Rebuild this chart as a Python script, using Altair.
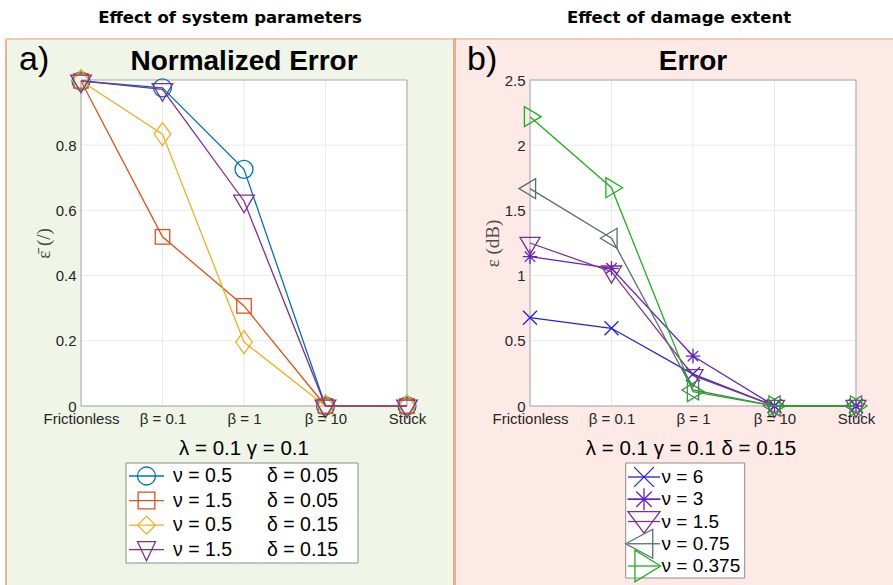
import altair as alt
import pandas as pd

# ---------------------------------------------------------------- data
categories = ["Frictionless", "β = 0.1", "β = 1", "β = 10", "Stuck"]

# (a) normalized error, lambda = gamma = 0.1
nu_a = ["ν = 0.5", "ν = 1.5", "ν = 0.5", "ν = 1.5"]
delta_a = ["δ = 0.05", "δ = 0.05", "δ = 0.15", "δ = 0.15"]
err_a_nu05_d005 = [0.997, 0.976, 0.726, 0.0, 0.0]
err_a_nu15_d005 = [0.997, 0.519, 0.307, 0.0, 0.0]
err_a_nu05_d015 = [0.997, 0.834, 0.196, 0.0, 0.0]
err_a_nu15_d015 = [0.997, 0.971, 0.629, 0.0, 0.0]
ticks_a = [0, 0.2, 0.4, 0.6, 0.8]

# (b) error in dB, lambda = gamma = 0.1, delta = 0.15
nu_b = ["ν = 6", "ν = 3", "ν = 1.5", "ν = 0.75", "ν = 0.375"]
err_b_nu6 = [0.677, 0.596, 0.245, 0.0, 0.0]
err_b_nu3 = [1.145, 1.056, 0.383, 0.0, 0.0]
err_b_nu15 = [1.25, 1.03, 0.235, 0.0, 0.0]
err_b_nu075 = [1.667, 1.286, 0.123, 0.0, 0.0]
err_b_nu0375 = [2.219, 1.674, 0.11, 0.0, 0.0]
ticks_b = [0, 0.5, 1, 1.5, 2, 2.5]

# ---------------------------------------------------------------- styles
colors_a = ["#0072BD", "#D95319", "#EDB120", "#7E2F8E"]
colors_b = ["#2323d8", "#6420cc", "#7E2F8E", "#5a6e6e", "#1fae1f"]

TRI_DOWN = "M-1,-0.57L1,-0.57L0,1.14Z"
TRI_LEFT = "M-1.11,0L0.56,-1L0.56,1Z"
TRI_RIGHT = "M1.11,0L-0.56,-1L-0.56,1Z"
DIAMOND = "M0,-1L0.72,0L0,1L-0.72,0Z"
XMARK = "M-1,-1L1,1M-1,1L1,-1"
STAR = "M-1,0L1,0M0,-1L0,1M-0.72,-0.72L0.72,0.72M-0.72,0.72L0.72,-0.72"

shapes_a = ["circle", "square", DIAMOND, TRI_DOWN]
sizes_a = [324, 210, 529, 428]
shapes_b = [XMARK, STAR, TRI_DOWN, TRI_LEFT, TRI_RIGHT]
sizes_b = [196, 210, 400, 400, 400]

# legend markers (drawn over a short line segment)
legend_marks_a = [
    "circle",
    "M-0.93,-0.93L0.93,-0.93L0.93,0.93L-0.93,0.93Z",
    "M0,-1L1,0L0,1L-1,0Z",
    "M-1,-0.89L1,-0.89L0,1.22Z",
]
legend_marks_b = [
    "M-0.6,-0.6L0.6,0.6M-0.6,0.6L0.6,-0.6",
    "M-1,0L1,0M0,-0.66L0,0.66M-0.47,-0.47L0.47,0.47M-0.47,0.47L0.47,-0.47",
    "M-0.97,-0.6L0.97,-0.6L0,0.7Z",
    "M-1.11,0L0.53,-0.88L0.53,0.88Z",
    "M1.01,0L-0.55,-0.96L-0.55,0.96Z",
]

SANS = "Liberation Sans"
SERIF = "Liberation Serif"
HEAD = "DejaVu Sans"
W = H = 326
one = pd.DataFrame({"k": [0]})


def box(x, x2, y, y2, **style):
    return alt.Chart(one).mark_rect(**style).encode(
        x=alt.value(x), x2=alt.value(x2), y=alt.value(y), y2=alt.value(y2)
    )


def label(text, x, y, size, weight="normal", align="center", font=SANS, color="black"):
    return alt.Chart(one).mark_text(
        text=text, font=font, fontSize=size, fontWeight=weight, align=align,
        baseline="alphabetic", color=color,
    ).encode(x=alt.value(x), y=alt.value(y))


def panel(series, rows, colors, shapes, sizes, y_max, ticks, y_title,
          backdrop, texts, legend):
    x_enc = alt.X(
        "cat:N",
        scale=alt.Scale(type="point", domain=categories, padding=0),
        axis=alt.Axis(
            title=None, labelAngle=0, ticks=False, domain=False, grid=False,
            labelFont=SANS, labelFontSize=15, labelColor="#262626",
            labelPadding=5, labelOverlap=False, labelFlush=False, zindex=1,
        ),
    )
    y_enc = alt.Y(
        "val:Q",
        scale=alt.Scale(domain=[0, y_max], nice=False, zero=True),
        axis=alt.Axis(
            title=y_title, values=ticks, format="~g", ticks=False, domain=False,
            grid=False, labelFont=SANS, labelFontSize=15, labelColor="#262626",
            labelPadding=5, titleFont=SERIF, titleFontSize=19,
            titleFontWeight="normal", titleColor="#4d4d4d", titlePadding=2,
            zindex=1,
        ),
    )
    cscale = alt.Scale(domain=series, range=colors)
    color = alt.Color("series:N", scale=cscale, legend=None)

    layers = list(backdrop)
    # plot area, grid and frame
    layers.append(box(0, W, 0, H, fill="white"))
    layers.append(
        alt.Chart(pd.DataFrame({"cat": categories}))
        .mark_rule(color="#e9e9e9", strokeWidth=1)
        .encode(x=x_enc)
    )
    layers.append(
        alt.Chart(pd.DataFrame({"val": ticks}))
        .mark_rule(color="#e9e9e9", strokeWidth=1)
        .encode(y=y_enc)
    )
    layers.append(box(0, W, 0, H, fillOpacity=0, stroke="#a6a6a6", strokeWidth=1))

    for name, vals, shape, size in zip(series, rows, shapes, sizes):
        df = pd.DataFrame(
            {"cat": categories, "val": vals, "series": name, "idx": list(range(len(vals)))}
        )
        layers.append(
            alt.Chart(df).mark_line(strokeWidth=1.3).encode(
                x=x_enc, y=y_enc, order="idx:Q", color=color
            )
        )
        layers.append(
            alt.Chart(df).mark_point(
                shape=shape, size=size, filled=False, strokeWidth=1.3, opacity=1
            ).encode(x=x_enc, y=y_enc, color=color)
        )
    layers.extend(texts)
    plot = alt.layer(*layers)

    # legend: framed box, one row per series on its own point scale
    lg = legend
    leg_df = pd.DataFrame({"series": series, **lg["columns"]})
    y_leg = alt.Y(
        "series:N",
        scale=alt.Scale(type="point", domain=series, range=lg["rows"], padding=0),
        axis=None,
    )
    bx = lg["box"]
    leg_layers = [
        box(bx[0], bx[1], bx[2], bx[3], fill="white", stroke="#8c8c8c", strokeWidth=1),
        alt.Chart(leg_df).mark_rule(strokeWidth=1.3).encode(
            x=alt.value(lg["line"][0]), x2=alt.value(lg["line"][1]), y=y_leg, color=color
        ),
        alt.Chart(leg_df).mark_point(
            filled=False, opacity=1, strokeWidth=1.3, size=lg["size"]
        ).encode(
            x=alt.value((lg["line"][0] + lg["line"][1]) / 2),
            y=y_leg,
            color=color,
            shape=alt.Shape(
                "series:N",
                scale=alt.Scale(domain=series, range=lg["marks"]),
                legend=None,
            ),
        ),
    ]
    for col, xpos in lg["text_x"].items():
        leg_layers.append(
            alt.Chart(leg_df).mark_text(
                align="left", baseline="middle", font=SANS,
                fontSize=lg["font"], color="black",
            ).encode(x=alt.value(xpos), y=y_leg, text=f"{col}:N")
        )
    legend_chart = alt.layer(*leg_layers)

    return (
        alt.layer(plot, legend_chart)
        .resolve_scale(y="independent")
        .properties(width=W, height=H)
    )


# panel (a): plot origin sits at (81, 80) of the page
backdrop_a = [
    box(-81, 812, -80, 505, fill="white"),
    box(-75, 373, -40, 505, fill="#eff5e7"),
    box(-76, -74, -42, 505, fill="#f0b193"),
    box(-76, 373, -42, -40, fill="#f6cbb6"),
]
texts_a = [
    label("Effect of system parameters", 149, -57, 16.5, "bold", font=HEAD),
    label("a)", -62, -10, 34, align="left"),
    label("Normalized Error", 163, -10, 28, "bold"),
    label("λ = 0.1 γ = 0.1", 163, 375, 20.5),
]
series_a = [f"{n} {d}" for n, d in zip(nu_a, delta_a)]
chart_a = panel(
    series_a,
    [err_a_nu05_d005, err_a_nu15_d005, err_a_nu05_d015, err_a_nu15_d015],
    colors_a, shapes_a, sizes_a, 1.0, ticks_a, "ε\u0304 (/)",
    backdrop_a, texts_a,
    dict(columns={"nu": nu_a, "delta": delta_a}, rows=[396, 469.7],
         box=(45, 277, 383, 483), line=(48, 83), size=324,
         marks=legend_marks_a, text_x={"nu": 92, "delta": 186}, font=19.5),
)

# panel (b): plot origin sits at (530, 80) of the page
backdrop_b = [
    box(-74, 363, -40, 505, fill="#fde9e6"),
    box(-74, 363, -42, -40, fill="#f6cbb6"),
    box(-77, -74, -42, 505, fill="#eaab8e"),
]
texts_b = [
    label("Effect of damage extent", 149, -57, 16.5, "bold", font=HEAD),
    label("b)", -63, -10, 34, align="left"),
    label("Error", 163, -10, 28, "bold"),
    label("λ = 0.1 γ = 0.1 δ = 0.15", 161, 375, 20.5),
]
chart_b = panel(
    nu_b,
    [err_b_nu6, err_b_nu3, err_b_nu15, err_b_nu075, err_b_nu0375],
    colors_b, shapes_b, sizes_b, 2.5, ticks_b, "ε (dB)",
    backdrop_b, texts_b,
    dict(columns={"nu": nu_b}, rows=[397, 486],
         box=(95.7, 214.7, 383, 498), line=(98, 130), size=1089,
         marks=legend_marks_b, text_x={"nu": 131.5}, font=19),
)

chart = (
    alt.hconcat(chart_a, chart_b, spacing=123, bounds="flush")
    .resolve_scale(color="independent", shape="independent")
    .properties(padding=0, background="white")
    .configure_view(strokeWidth=0)
)

chart.save("out.html", embed_options={"renderer": "svg", "actions": False})
